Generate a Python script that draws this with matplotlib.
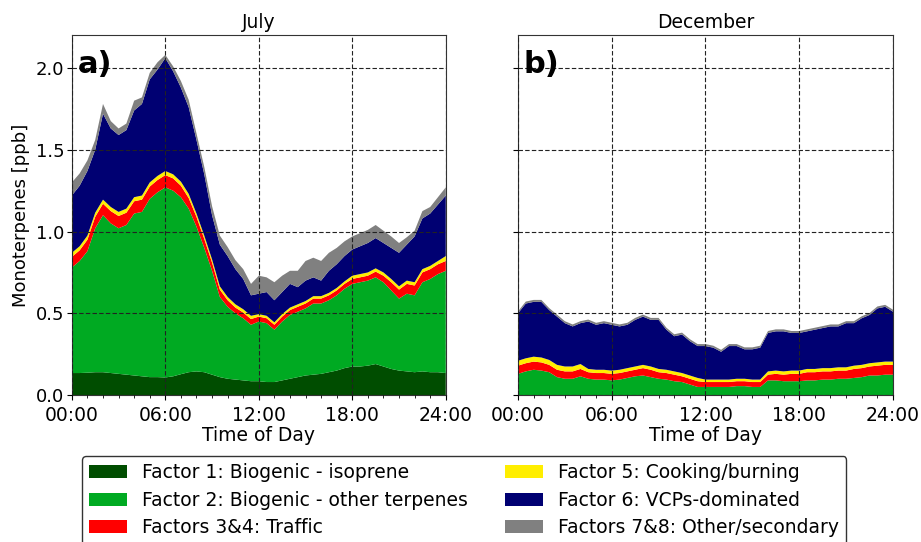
import numpy as np
import matplotlib
matplotlib.use("Agg")
import matplotlib.pyplot as plt
from matplotlib.patches import Patch
from matplotlib.ticker import MultipleLocator

# half-hourly diurnal profiles, 00:00 .. 24:00
hours = np.arange(0, 24.01, 0.5)

# July
jul_f1 = [0.135, 0.135, 0.137, 0.14, 0.14, 0.135, 0.13, 0.125, 0.12, 0.115,
          0.11, 0.11, 0.108, 0.115, 0.128, 0.14, 0.145, 0.14, 0.125, 0.11,
          0.10, 0.095, 0.09, 0.085, 0.085, 0.08, 0.08, 0.09, 0.10, 0.11,
          0.12, 0.125, 0.13, 0.14, 0.15, 0.165, 0.175, 0.175, 0.18, 0.19,
          0.175, 0.16, 0.15, 0.145, 0.14, 0.145, 0.14, 0.14, 0.135]
jul_f2 = [0.645, 0.685, 0.743, 0.88, 0.96, 0.915, 0.89, 0.915, 0.99, 1.005,
          1.09, 1.13, 1.162, 1.135, 1.082, 1.00, 0.885, 0.76, 0.635, 0.49,
          0.44, 0.405, 0.38, 0.345, 0.365, 0.36, 0.32, 0.36, 0.39, 0.40,
          0.41, 0.435, 0.43, 0.44, 0.46, 0.485, 0.505, 0.515, 0.52, 0.53,
          0.515, 0.48, 0.44, 0.475, 0.47, 0.545, 0.57, 0.60, 0.625]
jul_f34 = [0.065, 0.065, 0.07, 0.07, 0.07, 0.075, 0.075, 0.075, 0.075, 0.075,
           0.075, 0.075, 0.075, 0.075, 0.07, 0.065, 0.06, 0.055, 0.05, 0.045,
           0.04, 0.035, 0.035, 0.035, 0.03, 0.03, 0.03, 0.03, 0.03, 0.03,
           0.03, 0.03, 0.03, 0.03, 0.03, 0.03, 0.03, 0.03, 0.03, 0.035,
           0.04, 0.05, 0.055, 0.06, 0.06, 0.06, 0.06, 0.06, 0.06]
jul_f5 = [0.025] * 16 + [0.02] * 8 + [0.015] * 12 + [0.02] * 12 + [0.03]
jul_f6 = [0.35, 0.37, 0.395, 0.385, 0.525, 0.48, 0.47, 0.48, 0.53, 0.56,
          0.63, 0.65, 0.69, 0.63, 0.575, 0.53, 0.45, 0.375, 0.27, 0.255,
          0.25, 0.215, 0.185, 0.125, 0.125, 0.145, 0.135, 0.135, 0.145, 0.105,
          0.125, 0.115, 0.095, 0.135, 0.145, 0.155, 0.16, 0.17, 0.18, 0.185,
          0.18, 0.19, 0.205, 0.22, 0.28, 0.31, 0.32, 0.345, 0.37]
jul_f78 = [0.08, 0.075, 0.065, 0.06, 0.06, 0.045, 0.04, 0.04, 0.06, 0.04,
           0.04, 0.045, 0.02, 0.03, 0.04, 0.045, 0.04, 0.045, 0.055, 0.055,
           0.055, 0.055, 0.06, 0.07, 0.11, 0.09, 0.11, 0.10, 0.08, 0.10,
           0.12, 0.12, 0.12, 0.11, 0.10, 0.09, 0.08, 0.08, 0.08, 0.08,
           0.075, 0.07, 0.06, 0.045, 0.035, 0.045, 0.04, 0.045, 0.05]

# December
dec_f1 = [0.0] * 49
dec_f2 = [0.13, 0.145, 0.155, 0.15, 0.14, 0.11, 0.10, 0.10, 0.115, 0.10,
          0.095, 0.095, 0.09, 0.095, 0.105, 0.115, 0.12, 0.11, 0.10, 0.095,
          0.085, 0.08, 0.065, 0.05, 0.05, 0.05, 0.05, 0.05, 0.055, 0.055,
          0.05, 0.05, 0.09, 0.09, 0.085, 0.085, 0.085, 0.09, 0.09, 0.095,
          0.095, 0.10, 0.10, 0.105, 0.11, 0.12, 0.12, 0.125, 0.125]
dec_f34 = [0.05, 0.05, 0.05, 0.05, 0.045, 0.045, 0.045, 0.045, 0.045, 0.04,
           0.04, 0.04, 0.04, 0.04, 0.04, 0.04, 0.045, 0.045, 0.04, 0.04,
           0.04, 0.035, 0.035, 0.035, 0.03, 0.03, 0.03, 0.03, 0.03, 0.03,
           0.03, 0.03, 0.035, 0.04, 0.04, 0.045, 0.045, 0.05, 0.05, 0.05,
           0.05, 0.05, 0.05, 0.055, 0.055, 0.055, 0.06, 0.06, 0.06]
dec_f5 = [0.03] * 9 + [0.02] * 15 + [0.015] * 8 + [0.02] * 17
dec_f6 = [0.29, 0.335, 0.335, 0.34, 0.305, 0.295, 0.265, 0.245, 0.25, 0.29,
          0.275, 0.285, 0.28, 0.265, 0.265, 0.285, 0.295, 0.285, 0.30, 0.245,
          0.215, 0.235, 0.21, 0.195, 0.205, 0.195, 0.17, 0.205, 0.20, 0.18,
          0.185, 0.195, 0.235, 0.24, 0.245, 0.23, 0.23, 0.23, 0.24, 0.245,
          0.255, 0.25, 0.27, 0.26, 0.285, 0.295, 0.33, 0.335, 0.305]
dec_f78 = [0.012] * 49

factor_labels = ["Factor 1: Biogenic - isoprene",
                 "Factor 2: Biogenic - other terpenes",
                 "Factors 3&4: Traffic",
                 "Factor 5: Cooking/burning",
                 "Factor 6: VCPs-dominated",
                 "Factors 7&8: Other/secondary"]
factor_colors = ["#004d00", "#00aa22", "#ff0000", "#ffee00", "#000072", "#808080"]

time_ticks = [0, 6, 12, 18, 24]
time_labels = ["00:00", "06:00", "12:00", "18:00", "24:00"]

plt.rcParams["font.size"] = 13.5

fig = plt.figure(figsize=(9.21, 5.42), dpi=100)
ax_a = fig.add_axes([0.078, 0.271, 0.406, 0.664])
ax_b = fig.add_axes([0.5624, 0.271, 0.4072, 0.664], sharey=ax_a)

panels = [
    (ax_a, "July", "a)", [jul_f1, jul_f2, jul_f34, jul_f5, jul_f6, jul_f78]),
    (ax_b, "December", "b)", [dec_f1, dec_f2, dec_f34, dec_f5, dec_f6, dec_f78]),
]

for ax, title, tag, series in panels:
    ax.stackplot(hours, *series, colors=factor_colors, linewidth=0)
    ax.set_xlim(0, 24)
    ax.set_ylim(0, 2.2)
    ax.set_xticks(time_ticks)
    ax.set_xticklabels(time_labels)
    ax.xaxis.set_minor_locator(MultipleLocator(1))
    ax.yaxis.set_major_locator(MultipleLocator(0.5))
    ax.grid(True, color="#222222", linestyle=(0, (4, 2)), linewidth=0.8)
    ax.set_axisbelow(False)
    ax.tick_params(axis="x", pad=4)
    ax.tick_params(axis="y", pad=2, labelsize=13)
    for sp in ax.spines.values():
        sp.set_color("#333333")
    ax.set_title(title, fontsize=13.5, pad=5)
    ax.set_xlabel("Time of Day", fontsize=13.5, labelpad=1)
    ax.text(0.015, 0.96, tag, transform=ax.transAxes, fontsize=22,
            fontweight="bold", va="top", ha="left", zorder=6)

ax_a.set_ylabel("Monoterpenes [ppb]", fontsize=13)
plt.setp(ax_b.get_yticklabels(), visible=False)

handles = [Patch(facecolor=c, edgecolor="none") for c in factor_colors]
fig.legend(handles, factor_labels, loc="upper center", ncol=2,
           bbox_to_anchor=(0.504, 0.159), fontsize=13.5, handlelength=2.0,
           columnspacing=2.0, labelspacing=0.45, edgecolor="#333333",
           fancybox=True, framealpha=1, borderaxespad=0)

fig.savefig("out.png", dpi=100)
